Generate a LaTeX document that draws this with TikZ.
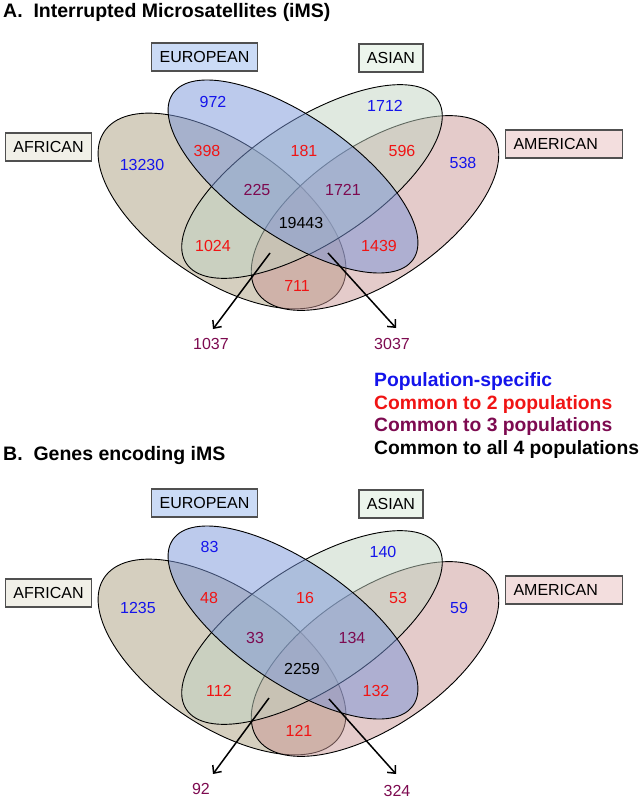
\documentclass[tikz,border=0pt]{standalone}
\usepackage{fontspec}
\setmainfont{Liberation Sans}
\usetikzlibrary{arrows.meta}
\definecolor{afrset}{RGB}{171,159,127}
\definecolor{eurset}{RGB}{121,149,217}
\definecolor{asiset}{RGB}{193,211,193}
\definecolor{ameset}{RGB}{201,151,149}
\definecolor{afrbox}{RGB}{241,240,232}
\definecolor{eurbox}{RGB}{203,219,246}
\definecolor{asibox}{RGB}{236,245,236}
\definecolor{amebox}{RGB}{243,222,222}
\definecolor{boxline}{RGB}{80,80,80}
\definecolor{onlyblue}{RGB}{20,20,235}
\definecolor{twored}{RGB}{240,20,20}
\definecolor{threepurple}{RGB}{125,10,80}
\tikzset{
  % Population ellipse (parameterized by color)
  vennset/.style={draw=black, line width=0.9pt, fill=#1, fill opacity=0.5},
  % Population name box (parameterized by color)
  popbox/.style={
    rectangle, draw=boxline, fill=#1, line width=1.1pt,
    font=\fontsize{16}{19}\selectfont, minimum height=28pt, inner xsep=8pt
  },
  % Region counts (parameterized by color)
  tally/.style={font=\fontsize{16}{19}\selectfont, text=#1, inner sep=1pt},
  tallyarrow/.style={-{Straight Barb[length=6pt, width=11pt]}, line width=1.5pt},
  paneltitle/.style={font=\fontsize{19.5}{23}\selectfont\bfseries, anchor=base west, inner sep=0pt},
  keyline/.style={font=\fontsize{19.3}{23}\selectfont\bfseries, text=#1, anchor=base west, inner sep=0pt}
}

\begin{document}
\begin{tikzpicture}[x=1pt, y=-1pt]
  \useasboundingbox (0,0) rectangle (641,800);

  % Panel titles
  \node[paneltitle] (titlea) at (3,17.3) {A.\ \ Interrupted Microsatellites (iMS)};
  \node[paneltitle] (titleb) at (3,460) {B.\ \ Genes encoding iMS};

  % Ellipses and population boxes (same in both panels)
  \foreach \p/\dy in {a/0, b/446} {
    \begin{scope}[shift={(0,\dy)}]
      \draw[vennset=afrset, rotate around={-34:(222,211)}] (222,211) ellipse [x radius=142, y radius=69];
      \draw[vennset=ameset, rotate around={34:(375,213)}] (375,213) ellipse [x radius=142, y radius=68];
      \draw[vennset=asiset, rotate around={33:(312,181.5)}] (312,181.5) ellipse [x radius=150, y radius=62];
      \draw[vennset=eurset, rotate around={-34.6:(293,176.5)}] (293,176.5) ellipse [x radius=146, y radius=60];
      \node[popbox=eurbox] (eur-box-\p) at (204.5,57) {EUROPEAN};
      \node[popbox=asibox] (asi-box-\p) at (391,58) {ASIAN};
      \node[popbox=afrbox] (afr-box-\p) at (48.5,147) {AFRICAN};
      \node[popbox=amebox, text width=101pt, align=left] (ame-box-\p) at (564,144) {AMERICAN};
    \end{scope}
  }

  % Panel A counts
  \node[tally=onlyblue] (eur-a) at (213,102) {972};
  \node[tally=onlyblue] (asi-a) at (385,106) {1712};
  \node[tally=onlyblue] (afr-a) at (142,165) {13230};
  \node[tally=onlyblue] (ame-a) at (463,163) {538};
  \node[tally=twored] (afeu-a) at (207,151) {398};
  \node[tally=twored] (euas-a) at (304,151) {181};
  \node[tally=twored] (asam-a) at (402,151) {596};
  \node[tally=threepurple] (afeuas-a) at (257,190) {225};
  \node[tally=threepurple] (euasam-a) at (343,190) {1721};
  \node[tally=black] (all-a) at (301,223) {19443};
  \node[tally=twored] (afas-a) at (213,246) {1024};
  \node[tally=twored] (euam-a) at (379,246) {1439};
  \node[tally=twored] (afam-a) at (297,286) {711};
  \node[tally=threepurple] (afasam-a) at (211,344) {1037};
  \node[tally=threepurple] (afeuam-a) at (392,344) {3037};

  % Panel A arrows
  \coordinate (afasam-a-in) at (270,253);
  \coordinate (afasam-a-tip) at (213,329);
  \coordinate (afeuam-a-in) at (328,253);
  \coordinate (afeuam-a-tip) at (396,328);
  \draw[tallyarrow] (afasam-a-in) -- (afasam-a-tip);
  \draw[tallyarrow] (afeuam-a-in) -- (afeuam-a-tip);

  % Legend
  \node[keyline=onlyblue] (keyone) at (374,386.5) {Population-specific};
  \node[keyline=twored] (keytwo) at (374,409.2) {Common to 2 populations};
  \node[keyline=threepurple] (keythree) at (374,431.9) {Common to 3 populations};
  \node[keyline=black] (keyfour) at (374,454.6) {Common to all 4 populations};

  % Panel B counts
  \node[tally=onlyblue] (eur-b) at (209.5,547) {83};
  \node[tally=onlyblue] (asi-b) at (383,552) {140};
  \node[tally=onlyblue] (afr-b) at (138,608) {1235};
  \node[tally=onlyblue] (ame-b) at (459,608) {59};
  \node[tally=twored] (afeu-b) at (209,598) {48};
  \node[tally=twored] (euas-b) at (305,598) {16};
  \node[tally=twored] (asam-b) at (398,598) {53};
  \node[tally=threepurple] (afeuas-b) at (255,638) {33};
  \node[tally=threepurple] (euasam-b) at (352,638) {134};
  \node[tally=black] (all-b) at (302,669) {2259};
  \node[tally=twored] (afas-b) at (219,691) {112};
  \node[tally=twored] (euam-b) at (376,691) {132};
  \node[tally=twored] (afam-b) at (299,731) {121};
  \node[tally=threepurple] (afasam-b) at (201,789) {92};
  \node[tally=threepurple] (afeuam-b) at (397,791) {324};

  % Panel B arrows
  \coordinate (afasam-b-in) at (269,698);
  \coordinate (afasam-b-tip) at (213,774);
  \coordinate (afeuam-b-in) at (329,699);
  \coordinate (afeuam-b-tip) at (396,774);
  \draw[tallyarrow] (afasam-b-in) -- (afasam-b-tip);
  \draw[tallyarrow] (afeuam-b-in) -- (afeuam-b-tip);
\end{tikzpicture}
\end{document}
